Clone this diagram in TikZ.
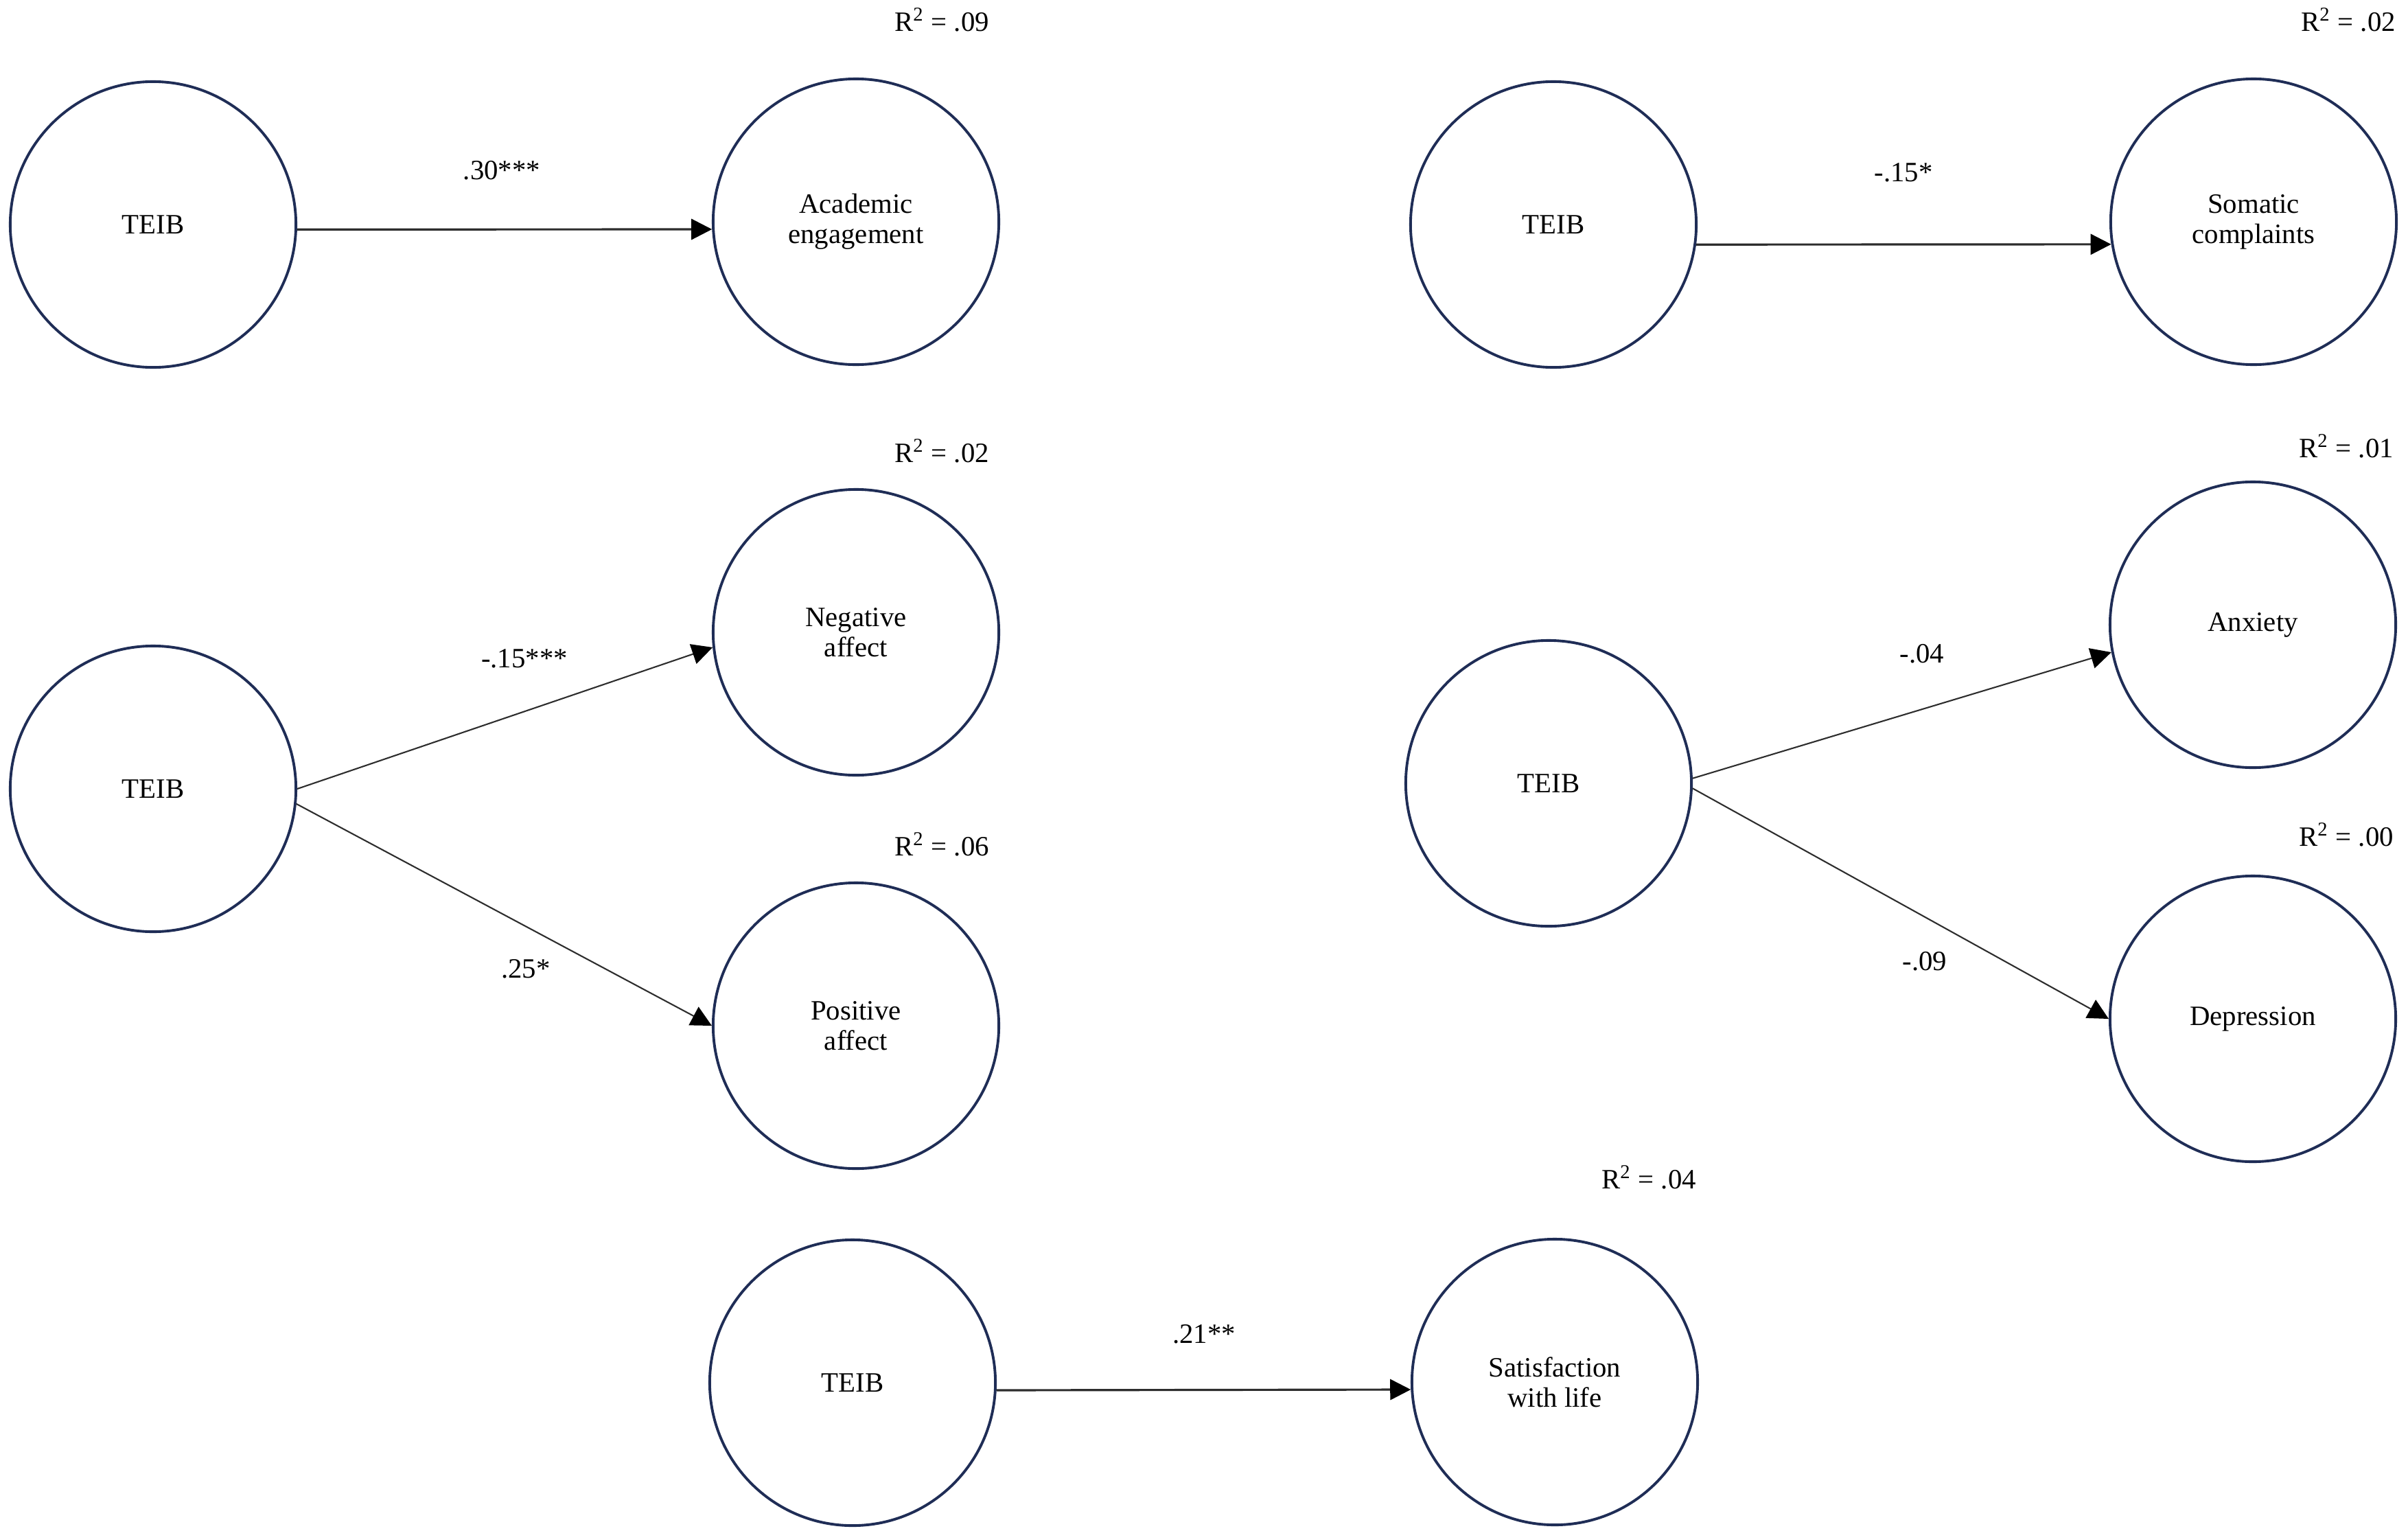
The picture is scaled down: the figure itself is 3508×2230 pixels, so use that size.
\documentclass[tikz,border=0pt]{standalone}
\usepackage{fontspec}
\setmainfont{Liberation Serif}
\usetikzlibrary{arrows.meta}
\definecolor{navy}{RGB}{31,45,86}
\definecolor{linegray}{RGB}{45,45,45}
\begin{document}
\begin{tikzpicture}[x=0.01cm,y=-0.01cm,
  latent/.style={circle,draw=navy,line width=1.1pt,minimum size=4.16cm,inner sep=0pt,
    align=center,font=\fontsize{11.6}{12.6}\selectfont},
  lbl/.style={inner sep=0pt,font=\fontsize{11.6}{12.6}\selectfont},
  path/.style={draw=linegray,line width=0.9pt,-{Triangle[length=0.3cm,width=0.3cm,color=black]}},
  dpath/.style={draw=linegray,line width=0.6pt,-{Triangle[length=0.3cm,width=0.3cm,color=black]}}]
\useasboundingbox (0,0) rectangle (3508,2230);
% top left
\node[latent] (t1) at (223,327) {TEIB};
\node[latent] (ae) at (1247,323) {Academic\\engagement};
\node[lbl] (r1) at (1372,29) {R\textsuperscript{2} = .09};
\draw[path] (t1.-2) -- (ae.183);
\node[lbl] (l1) at (731,248) {.30***};
% top right
\node[latent] (t2) at (2263,327) {TEIB};
\node[latent] (sc) at (3283,323) {Somatic\\complaints};
\node[lbl] (r2) at (3421,29) {R\textsuperscript{2} = .02};
\draw[path] (t2.-8.3) -- (sc.189.4);
\node[lbl] (l2) at (2773,251) {-.15*};
% middle left
\node[latent] (t3) at (223,1149) {TEIB};
\node[latent] (na) at (1247,921) {Negative\\affect};
\node[latent] (pa) at (1247,1494) {Positive\\affect};
\node[lbl] (r3) at (1372,657) {R\textsuperscript{2} = .02};
\node[lbl] (r4) at (1372,1230) {R\textsuperscript{2} = .06};
\draw[dpath] (t3.-0.5) -- (na.186.5);
\draw[dpath] (t3.-6.6) -- (pa.180.8);
\node[lbl] (l3) at (764,959) {-.15***};
\node[lbl] (l4) at (766,1411) {.25*};
% middle right
\node[latent] (t4) at (2256,1141) {TEIB};
\node[latent] (an) at (3282,910) {Anxiety};
\node[latent] (de) at (3282,1484) {Depression};
\node[lbl] (r5) at (3418,650) {R\textsuperscript{2} = .01};
\node[lbl] (r6) at (3418,1216) {R\textsuperscript{2} = .00};
\draw[dpath] (t4.2.6) -- (an.191.6);
\draw[dpath] (t4.-2.1) -- (de.180.8);
\node[lbl] (l5) at (2800,952) {-.04};
\node[lbl] (l6) at (2804,1400) {-.09};
% bottom
\node[latent] (t5) at (1242,2014) {TEIB};
\node[latent] (sw) at (2265,2013) {Satisfaction\\with life};
\node[lbl] (r7) at (2402,1715) {R\textsuperscript{2} = .04};
\draw[path] (t5.-3) -- (sw.183.3);
\node[lbl] (l7) at (1754,1943) {.21**};
\end{tikzpicture}
\end{document}
